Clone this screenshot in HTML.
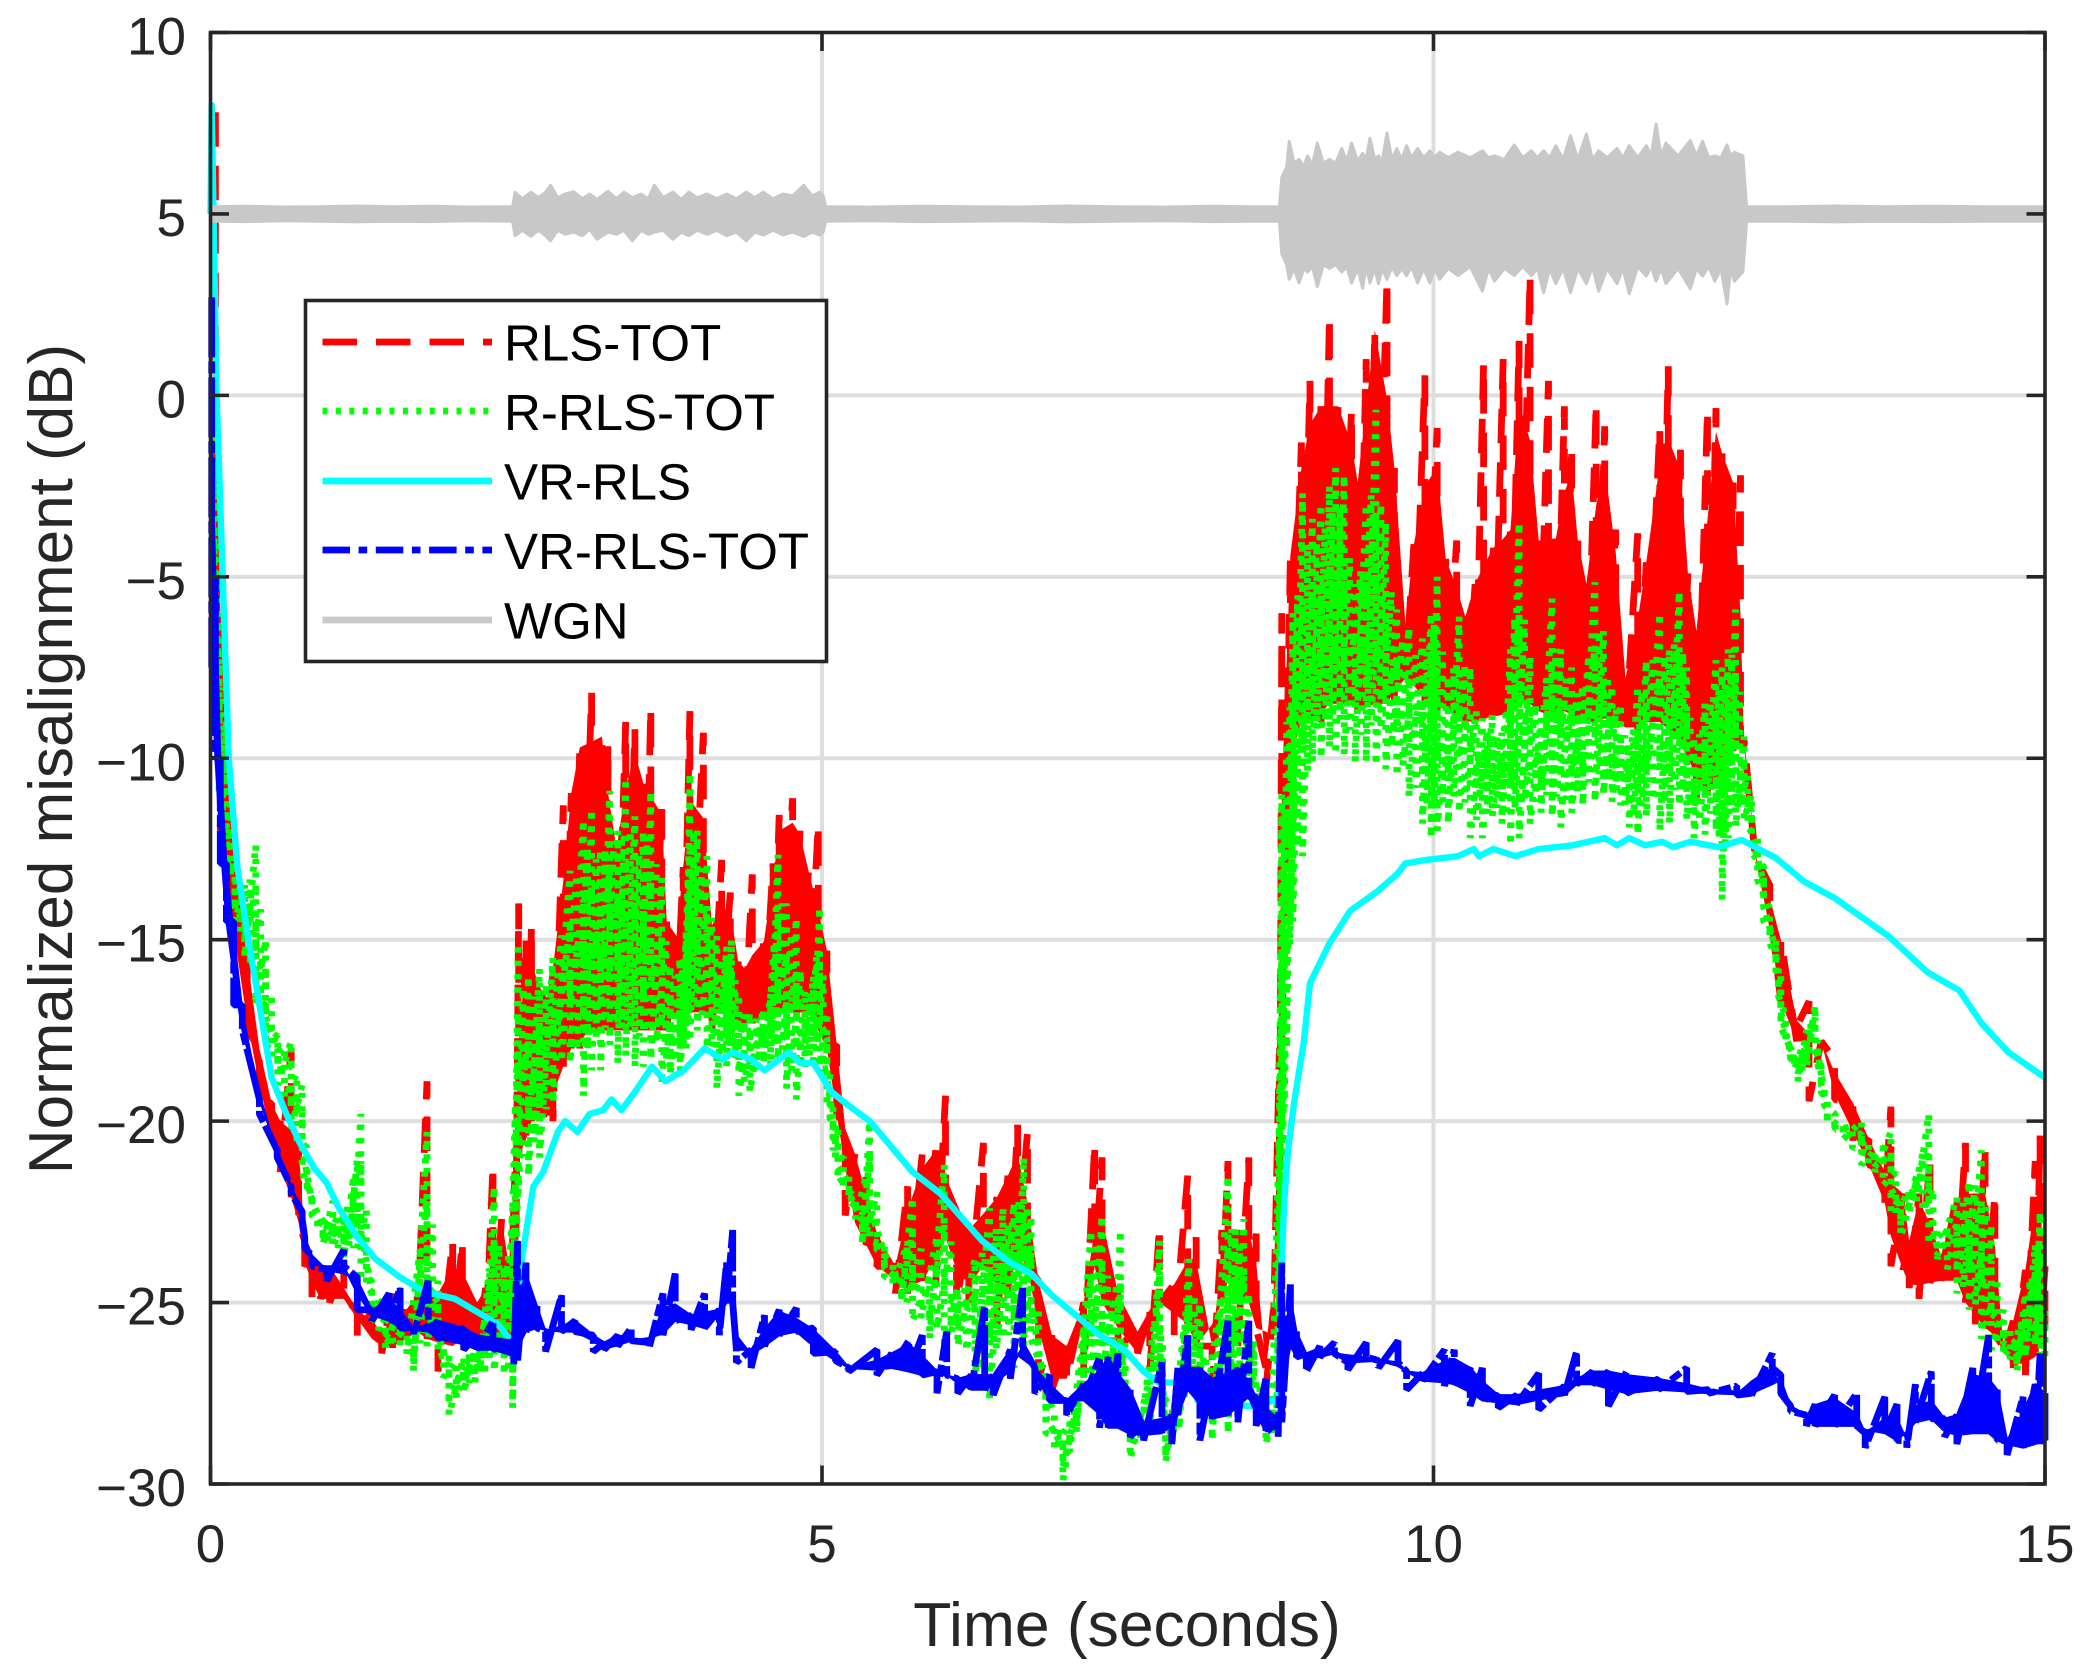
<!DOCTYPE html>
<html lang="en">
<head>
<meta charset="utf-8">
<title>Normalized misalignment vs time</title>
<style>
html,body{margin:0;padding:0;background:#fff;width:2085px;height:1675px;overflow:hidden}
svg{display:block;font-family:"Liberation Sans",Arial,sans-serif}
</style>
</head>
<body>
<svg id="chart" xmlns="http://www.w3.org/2000/svg" width="2085" height="1675" viewBox="0 0 2085 1675">
<rect width="2085" height="1675" fill="#fff"/>
<g id="grid"></g>
<g id="series"></g>
<g id="axes"></g>
<text x="1127" y="1646" font-size="62.4" fill="#262626" text-anchor="middle">Time (seconds)</text>
<text transform="translate(72,759) rotate(-90)" font-size="62" fill="#262626" text-anchor="middle">Normalized misalignment (dB)</text>
<g>
<rect x="305.5" y="300.5" width="521" height="361" fill="#fff" stroke="#262626" stroke-width="3.6"/>
<g><line x1="322.5" x2="492" y1="342" y2="342" stroke="#ff0000" stroke-width="6.8" stroke-dasharray="34.5 19"/><text x="504" y="360.5" font-size="51" fill="#000">RLS-TOT</text></g>
<g><line x1="322.5" x2="492" y1="411" y2="411" stroke="#00ff00" stroke-width="6.8" stroke-dasharray="5 8.4"/><text x="504" y="430" font-size="51" fill="#000">R-RLS-TOT</text></g>
<g><line x1="322.5" x2="492" y1="481" y2="481" stroke="#00ffff" stroke-width="6.8"/><text x="504" y="499.5" font-size="51" fill="#000">VR-RLS</text></g>
<g><line x1="322.5" x2="492" y1="550" y2="550" stroke="#0000ff" stroke-width="6.8" stroke-dasharray="27.5 8.6 8.6 8.6"/><text x="504" y="569" font-size="51" fill="#000">VR-RLS-TOT</text></g>
<g><line x1="322.5" x2="492" y1="620" y2="620" stroke="#c8c8c8" stroke-width="6.8"/><text x="504" y="638.5" font-size="51" fill="#000">WGN</text></g>
</g>
</svg>
<script>
const xTicks = [0, 5, 10, 15];
const yTicks = [10, 5, 0, -5, -10, -15, -20, -25, -30];
const xTickLabels = ['0', '5', '10', '15'];
const yTickLabels = ['10', '5', '0', '\u22125', '\u221210', '\u221215', '\u221220', '\u221225', '\u221230'];

const redTime = [.04,.08,.13,.2,.3,.4,.5,.57,.66,.72,.77,.83,.9,.975,1.09,1.2,1.32,1.4,1.49,1.6,1.69,1.77,1.86,1.98,2.06,2.18,2.25,2.31,2.38,2.44,2.49,2.52,2.58,2.625,2.69,2.75,2.8,2.885,2.95,3.02,3.116,3.2,3.25,3.32,3.395,3.47,3.54,3.6,3.69,3.73,3.81,3.865,3.92,4.03,4.1,4.18,4.25,4.315,4.37,4.43,4.525,4.6,4.65,4.76,4.82,4.89,4.97,5.04,5.12,5.19,5.27,5.36,5.45,5.6,5.7,5.82,5.93,6.01,6.1,6.2,6.32,6.43,6.52,6.6,6.68,6.77,6.88,7,7.14,7.23,7.29,7.42,7.58,7.68,7.76,7.88,7.99,8.06,8.19,8.27,8.32,8.4,8.49,8.55,8.63,8.69,8.74,8.76,8.83,8.92,8.99,9.08,9.15,9.22,9.33,9.38,9.45,9.52,9.62,9.68,9.77,9.84,9.93,10.03,10.1,10.19,10.26,10.34,10.41,10.49,10.57,10.63,10.7,10.79,10.86,10.94,11,11.07,11.13,11.18,11.25,11.33,11.4,11.49,11.57,11.67,11.74,11.85,11.92,12.02,12.08,12.15,12.24,12.31,12.36,12.45,12.51,12.54,12.59,12.63,12.75,12.84,12.97,13.07,13.17,13.28,13.43,13.56,13.69,13.74,13.84,13.89,13.97,14.06,14.15,14.28,14.35,14.43,14.51,14.59,14.66,14.74,14.84,14.92,14.96,15];
const redHigh = [7.8,-6,-10,-13,-15.5,-18,-19.5,-20,-18,-20.5,-23.3,-23.7,-24,-24,-23.9,-25.2,-25.2,-25.8,-24.75,-25.2,-24.8,-18.9,-24.75,-23.3,-23.3,-25,-24.6,-21.2,-22.7,-24,-21.4,-14,-15,-14.6,-16.3,-16.6,-15.8,-11.3,-10.96,-9.7,-8.2,-9.4,-9.6,-12.5,-9,-9.2,-10.7,-8.6,-11.4,-14.5,-14.9,-13,-8.7,-9.3,-14.6,-12.8,-13.7,-15.6,-15.8,-13.2,-15.05,-12.9,-11.56,-11.1,-12,-13.1,-11.8,-15.3,-17.9,-20.2,-20.9,-21.4,-23.1,-24,-21.8,-20.9,-20.8,-19.3,-22.25,-23,-20.6,-22.1,-21.5,-20.1,-20.3,-24.4,-25.9,-26.2,-25,-20.6,-21,-24.75,-25.8,-25.2,-22.9,-24.5,-21.5,-23.2,-26.2,-23,-21.1,-23,-21,-23.1,-26.8,-25.2,-18,-6,-4.4,-1.3,.4,-.3,2.2,-.3,-.4,-2.4,1,1.8,3.2,-2,-6.3,-4.1,.55,-.9,-4.5,-4,-6.1,-5.2,.9,-4.2,1,-3.7,1.5,3.3,-4,.4,-3.95,-.3,-1.4,-4,-5.2,-.2,-.85,-3.7,-7.8,-3.8,-4.6,-.9,.8,-1.5,-4.9,-6.5,-.4,-.35,-1.6,-2.4,-2.2,-9.7,-11.3,-12.7,-13.5,-16.7,-17.8,-16.7,-17.8,-18.3,-19.5,-20.5,-21.4,-19.6,-22,-23.3,-22,-21,-23.7,-22,-20.6,-22,-20.7,-22,-26.2,-25.5,-24.1,-21.1,-20.4,-24];
const redLow = [-8,-12,-13.5,-15,-17.5,-19.5,-20.5,-21.4,-22.1,-22.8,-24,-25,-24.9,-25,-24.9,-26,-26,-26.4,-26.4,-26,-25.8,-26,-26.9,-26.2,-26,-26.3,-26.1,-26.2,-26.2,-26.3,-26.4,-21,-20.5,-20,-19.8,-20,-20,-18.5,-18,-18,-17.5,-17.5,-17.5,-17.5,-17.5,-17.5,-17.5,-17.5,-17.5,-17.5,-17,-17,-17,-17,-17.5,-17,-17.3,-17.5,-17.3,-17.3,-17.2,-17,-17,-17,-17,-17,-17.5,-18,-19.8,-22.6,-22.8,-23.4,-24,-24.75,-24.75,-24.4,-24.5,-23.2,-25,-25,-24,-25.7,-25,-23.6,-24,-27.1,-27.4,-27.1,-27,-24,-25,-26.2,-26.4,-26.9,-25,-25.9,-25.6,-26.2,-27.4,-25,-24.4,-26.2,-25,-25.7,-27.4,-25.9,-26,-18,-10,-9,-9,-9,-8.5,-8.5,-8.5,-8.7,-8.7,-8.5,-8.5,-8.5,-7.8,-8,-8.5,-8.7,-8.6,-8.8,-9.15,-9.1,-8.9,-9,-8.8,-8.8,-8.5,-8.5,-8.7,-8.9,-8.9,-8.7,-8.8,-9,-9.15,-9,-8.9,-9,-9.3,-9.3,-9,-9,-9.2,-9.5,-10,-11.1,-11,-10.8,-10.5,-9.8,-9.5,-9.5,-11.3,-12.7,-14,-15,-17.4,-19.45,-17.8,-19.4,-20.7,-21.2,-22.25,-24,-24.1,-24.6,-24.9,-24.45,-24.4,-24.4,-25,-25.6,-25.7,-25.9,-26.5,-26.8,-27,-26.5,-26.2,-25.9,-26];

const greenTime = [.03,.07,.13,.2,.28,.37,.45,.55,.66,.75,.83,.92,1,1.09,1.17,1.23,1.32,1.43,1.55,1.66,1.77,1.86,1.95,2.07,2.16,2.24,2.32,2.4,2.47,2.516,2.6,2.69,2.8,2.94,3.05,3.116,3.19,3.265,3.33,3.395,3.47,3.54,3.6,3.69,3.76,3.84,3.89,3.92,3.98,4.06,4.14,4.22,4.26,4.32,4.41,4.52,4.58,4.64,4.71,4.79,4.86,4.93,4.98,5.04,5.09,5.13,5.22,5.33,5.39,5.51,5.65,5.74,5.88,6,6.11,6.25,6.37,6.48,6.57,6.65,6.71,6.83,6.97,7.08,7.2,7.29,7.38,7.44,7.52,7.68,7.76,7.81,7.92,8,8.09,8.19,8.32,8.38,8.45,8.53,8.63,8.72,8.76,8.8,8.85,8.93,9.01,9.08,9.15,9.2,9.27,9.36,9.45,9.53,9.61,9.7,9.8,9.91,9.98,10.03,10.12,10.21,10.3,10.4,10.48,10.56,10.63,10.7,10.79,10.88,10.97,11.04,11.13,11.22,11.32,11.39,11.46,11.53,11.6,11.67,11.74,11.85,11.93,12.01,12.07,12.13,12.22,12.31,12.36,12.41,12.47,12.54,12.6,12.7,12.8,12.84,12.92,12.98,13.05,13.12,13.17,13.22,13.35,13.5,13.61,13.74,13.82,13.95,14.05,14.12,14.28,14.38,14.48,14.56,14.66,14.77,14.84,14.92,14.96,15];
const greenHigh = [0,-6,-9,-12.8,-13.5,-12.4,-15,-17.6,-17.8,-19,-22.1,-22.85,-22.2,-22.6,-21.5,-19.8,-24.4,-25.2,-25,-25.9,-20.3,-24.4,-26.4,-26.5,-26,-25.5,-21.8,-24,-22.4,-15.1,-16,-15.8,-15.5,-13.1,-11.7,-11.4,-12.5,-10.9,-12,-10.55,-11.6,-12,-10.9,-13.3,-15.7,-15.5,-14.8,-10.4,-12,-12.7,-14.9,-15.2,-15,-16.5,-17,-16.9,-16.5,-12.66,-14,-14.4,-16.4,-16,-14.1,-17,-19.6,-20.2,-21.5,-22.5,-20,-23.4,-24.2,-22.1,-24.3,-21.2,-24.6,-23.8,-22.4,-22.4,-22.25,-21,-22.6,-27.1,-28.6,-27.7,-23,-22.6,-25,-23,-28.6,-27.1,-23.3,-28.6,-27,-23.8,-25,-27.4,-21.5,-23,-22.7,-26,-28.3,-27.5,-11,-9,-6,-2.7,-3.4,-3,-2.5,-2,-2.2,-5.2,-3,-.4,-3.5,-5.9,-6.4,-6.7,-6,-5,-7.75,-6.1,-7.5,-8.9,-8.8,-9.3,-7,-3.5,-7.2,-8.9,-5.6,-7,-7.5,-8,-5.15,-6.5,-8,-8.5,-9.6,-8,-7.3,-6,-7,-5.4,-7.5,-9.4,-8.5,-7.3,-7.5,-7,-5.9,-9.4,-11,-13,-15,-16,-18,-18.2,-17.5,-16.8,-18.5,-19.4,-20.1,-20,-20.8,-20.3,-22.1,-21.5,-19.8,-23.4,-22.1,-21.65,-20.8,-22.85,-25.2,-26,-24.75,-23.4,-22.5,-25.2];
const greenLow = [-8,-11,-13,-14.5,-15.5,-16.8,-18,-19,-20.2,-21.4,-22.6,-23.4,-23.5,-23.8,-23.5,-24.3,-25.5,-26.3,-26.2,-26.9,-26.2,-26.5,-28.1,-27.5,-27.2,-27,-26.9,-27,-27.9,-22,-21.5,-21,-19.5,-18.4,-19.3,-18.6,-18.6,-17.9,-18.4,-18.2,-18.5,-18.5,-18.3,-19,-18.7,-18.8,-18,-17.8,-17.5,-18,-19.1,-18.5,-18,-19.3,-19.2,-18.4,-18.5,-18.3,-19.1,-19.4,-18.5,-18.5,-18.5,-19.5,-20.8,-21.7,-22.2,-23.4,-23.3,-24.3,-25,-25.5,-26,-26.3,-26.2,-27.1,-27.7,-26,-26.8,-26.2,-26,-28.6,-29.9,-28.6,-27.4,-27,-28,-27.4,-29.3,-28.6,-26.2,-29.4,-28.5,-27.4,-27.4,-28.8,-28.6,-27.5,-27.4,-27.4,-28.9,-28.6,-24,-18,-14.5,-12.7,-10.1,-10,-9.7,-9.9,-9.9,-10.1,-10.1,-10.2,-10.3,-10.5,-11.05,-11.8,-12.2,-12,-11.8,-11.5,-12.2,-12.2,-11.6,-11.8,-12.4,-12.2,-11.8,-11.5,-11.6,-11.9,-11.5,-11.3,-11.2,-11,-11.2,-11.3,-11.9,-12.1,-11.6,-12,-11.8,-11.3,-11.7,-12.2,-12.1,-12,-13.9,-12.2,-11.9,-11.7,-12.6,-14.5,-16,-17.4,-18.4,-18.9,-18.5,-18,-19.2,-20.1,-20.5,-21.2,-21.4,-22.5,-23.2,-22.2,-23.3,-23.8,-24.75,-25.2,-26,-26.3,-26.5,-26.9,-26.5,-26.2,-26.5,-26.5];

const cyanTime = [0,.01,.05,.1,.15,.22,.31,.4,.5,.62,.73,.85,.95,1.05,1.2,1.35,1.55,1.75,2,2.2,2.35,2.47,2.5,2.55,2.64,2.72,2.84,2.9,3,3.1,3.21,3.28,3.36,3.47,3.61,3.72,3.87,4.04,4.19,4.27,4.42,4.53,4.73,4.82,4.93,5.08,5.19,5.39,5.74,5.97,6.31,6.54,6.71,6.88,7.27,7.47,7.63,7.75,7.85,8.04,8.07,8.2,8.25,8.5,8.7,8.73,8.76,8.78,8.81,8.86,8.94,8.99,9.15,9.32,9.53,9.7,9.77,9.94,10.2,10.33,10.37,10.49,10.67,10.86,11.14,11.4,11.5,11.6,11.73,11.87,11.96,12.1,12.33,12.52,12.8,13.03,13.28,13.72,14.04,14.3,14.48,14.7,15];
const cyanLevel = [5,8,0,-5,-10,-13,-15,-16.8,-18.8,-19.8,-20.6,-21.3,-21.7,-22.4,-23.2,-23.8,-24.3,-24.7,-24.9,-25.3,-25.6,-26.1,-26.3,-23.7,-21.8,-21.4,-20.3,-20,-20.3,-19.8,-19.7,-19.4,-19.7,-19.2,-18.5,-18.9,-18.6,-18,-18.3,-18.1,-18.3,-18.6,-18.1,-18.4,-18.4,-19.2,-19.5,-20,-21.4,-22,-23.3,-23.9,-24.2,-24.8,-25.9,-26.3,-26.9,-27.2,-27.2,-27.25,-27.7,-27.6,-27.8,-27.85,-27.7,-27.8,-23.8,-22.2,-20.8,-19.5,-17.8,-16.2,-15.1,-14.2,-13.7,-13.2,-12.9,-12.8,-12.7,-12.5,-12.7,-12.5,-12.7,-12.5,-12.4,-12.2,-12.4,-12.2,-12.4,-12.3,-12.45,-12.3,-12.45,-12.25,-12.75,-13.4,-13.85,-14.9,-15.9,-16.4,-17.3,-18.1,-18.8];

const blueTime = [.01,.04,.08,.13,.19,.26,.4,.545,.66,.75,.77,.83,.95,1.09,1.2,1.32,1.46,1.55,1.66,1.78,1.86,2.07,2.18,2.31,2.48,2.51,2.58,2.67,2.74,2.87,2.98,3.13,3.22,3.33,3.44,3.59,3.7,3.8,3.93,4.04,4.16,4.22,4.27,4.3,4.42,4.53,4.65,4.79,4.93,5.11,5.22,5.45,5.57,5.71,5.82,5.94,6.02,6.11,6.22,6.33,6.4,6.54,6.64,6.74,6.86,7,7.14,7.27,7.34,7.42,7.52,7.63,7.78,7.86,7.91,7.99,8.09,8.19,8.32,8.4,8.49,8.55,8.63,8.73,8.76,8.83,8.88,8.96,9.07,9.19,9.3,9.45,9.55,9.71,9.78,9.91,10.09,10.17,10.3,10.4,10.53,10.68,10.86,11.07,11.17,11.3,11.43,11.58,11.84,12.07,12.25,12.48,12.6,12.77,12.84,12.92,13.05,13.12,13.28,13.46,13.53,13.69,13.79,13.87,13.94,14.07,14.18,14.28,14.41,14.54,14.61,14.69,14.82,14.92,14.96,15];
const blueHigh = [2.7,-5,-10,-12.9,-14.5,-16.8,-19.4,-20.8,-21.8,-22.5,-23.2,-23.7,-24.1,-23.55,-24.3,-25.2,-24.75,-24.6,-25.7,-24.4,-25.5,-25.7,-25.9,-25.5,-26.05,-23.3,-23.9,-25.1,-25.8,-24.8,-25.5,-25.9,-26.1,-25.9,-25.7,-26.1,-24.75,-24.2,-25.35,-24.75,-25.2,-23.9,-23,-26.3,-26.3,-25.35,-25.2,-25.15,-25.7,-26.35,-26.8,-26.3,-26.4,-26.05,-25.9,-26.9,-25.8,-27.1,-27,-25.1,-27,-26.3,-24.6,-26.8,-27,-27.7,-27.25,-26.5,-26.5,-26.4,-27.4,-28.3,-26.65,-28.1,-26.8,-25.9,-26.8,-27.1,-25.5,-26.8,-25.5,-27.6,-27.1,-28.2,-23.9,-24.5,-25.8,-26.4,-26.2,-26.1,-26.65,-26.1,-26.6,-26.05,-26.9,-26.95,-26.3,-26.3,-26.8,-26.8,-27.55,-27.55,-26.95,-27.3,-26.35,-26.9,-26.9,-26.9,-27.1,-26.8,-27.4,-27.3,-27.5,-26.4,-27,-27.85,-28.1,-27.8,-27.55,-27.5,-28.6,-27.6,-27.8,-28.8,-27.25,-26.9,-28.2,-28.1,-26.8,-25.9,-27.4,-28.8,-27.6,-27.25,-26.4,-27.5];
const blueLow = [-7.5,-10,-12.9,-14.5,-16.8,-17.5,-19.8,-21,-22,-22.7,-23.5,-24,-24.4,-24,-25.2,-25.5,-25.5,-25.7,-25.9,-25.8,-26,-26.3,-26.3,-26.3,-26.7,-26.65,-25.8,-25.7,-26.35,-25.8,-25.8,-26.35,-26.3,-26.2,-26.05,-26.2,-25.9,-25.5,-25.75,-25.7,-25.9,-25,-25,-26.65,-26.8,-26.2,-25.9,-25.8,-26.4,-26.6,-26.9,-27,-26.8,-26.9,-27,-27.5,-27,-27.5,-27.4,-27.4,-27.55,-27.1,-26.2,-27.5,-27.7,-28.1,-27.7,-28.45,-28.45,-28.45,-28.7,-28.8,-28.6,-28.9,-28.1,-27.4,-28.8,-28.2,-28.1,-28.3,-27.6,-28.4,-28.6,-28.7,-28.3,-26.2,-26.5,-26.9,-26.5,-26.4,-26.85,-26.5,-26.8,-26.65,-27.4,-27.15,-27.3,-27.25,-27.85,-27.7,-27.9,-27.8,-27.95,-27.55,-27.25,-27.25,-27.85,-27.5,-27.4,-27.45,-27.5,-27.55,-27.55,-26.8,-27.5,-28,-28.4,-28.4,-28.4,-28.4,-29,-28.6,-28.8,-29,-28.3,-28.2,-28.7,-28.9,-28.6,-28.6,-28.8,-29.2,-29,-28.9,-28.9,-28.8];

const wgnTime = [0,.3,.6,.9,1.2,1.5,1.8,2.1,2.45,
2.47,2.49,2.55,2.62,2.68,2.74,2.78,2.84,2.9,2.97,3.04,3.1,3.16,3.25,3.32,3.38,3.45,3.52,3.58,3.63,3.7,3.78,3.85,3.91,3.98,4.06,4.14,4.22,4.3,4.38,4.45,4.52,4.6,4.68,4.76,4.85,4.92,4.98,5.01,
5.03,5.4,5.8,6.2,6.6,7,7.4,7.8,8.2,8.5,
8.74,8.76,8.8,8.82,8.86,8.9,8.94,8.97,9.01,9.05,9.1,9.15,9.2,9.25,9.29,9.33,9.38,9.42,9.45,9.48,9.52,9.55,9.58,9.62,9.66,9.7,9.74,9.78,9.82,9.87,9.92,9.97,10.01,10.05,10.12,10.2,10.3,10.4,10.45,10.5,10.58,10.66,10.73,10.8,10.85,10.9,10.95,11,11.06,11.12,11.18,11.25,11.3,11.35,11.42,11.5,11.55,11.6,11.67,11.74,11.78,11.82,11.86,11.9,12,12.1,12.15,12.2,12.25,12.3,12.35,12.4,12.43,12.46,12.53,12.56,
12.9,13.3,13.7,14.1,14.5,15];
const wgnUpper = [5.2,5.21,5.19,5.2,5.22,5.2,5.21,5.19,5.2,
5.2,5.6,5.42,5.6,5.45,5.6,5.79,5.45,5.55,5.61,5.42,5.55,5.4,5.62,5.42,5.6,5.45,5.55,5.42,5.79,5.45,5.6,5.4,5.6,5.45,5.55,5.42,5.55,5.42,5.6,5.45,5.6,5.42,5.55,5.5,5.79,5.5,5.6,5.5,
5.2,5.19,5.21,5.2,5.19,5.22,5.2,5.19,5.21,5.2,
5.2,6,6.3,7,6.4,6.5,6.3,6.6,6.35,6.95,6.4,6.5,6.4,6.8,6.45,6.95,6.45,6.67,6.5,7.09,6.5,6.6,6.45,7.23,6.5,6.8,6.5,6.88,6.55,6.8,6.55,6.74,6.55,6.7,6.55,6.7,6.55,6.74,6.55,6.6,6.5,6.9,6.55,6.74,6.55,6.74,6.55,6.88,6.5,7.16,6.5,7.2,6.5,6.74,6.55,6.8,6.55,6.88,6.55,6.88,6.6,7.47,6.6,6.95,6.6,7.02,6.6,7,6.55,6.6,6.55,6.9,6.6,6.7,6.6,5.2,
5.2,5.22,5.2,5.21,5.2,5.2];
const wgnLower = [4.8,4.79,4.81,4.8,4.78,4.8,4.79,4.81,4.8,
4.8,4.4,4.55,4.38,4.55,4.4,4.26,4.55,4.44,4.5,4.4,4.58,4.3,4.5,4.44,4.55,4.26,4.55,4.44,4.5,4.55,4.3,4.5,4.4,4.55,4.44,4.55,4.4,4.5,4.26,4.5,4.42,4.55,4.42,4.5,4.38,4.5,4.42,4.5,
4.8,4.81,4.79,4.8,4.81,4.78,4.8,4.81,4.79,4.8,
4.8,3.9,3.6,3.2,3.5,3.1,3.5,3.4,3.55,3,3.6,3.5,3.6,3.4,3.55,3.1,3.5,2.95,3.55,3.1,3.5,3.08,3.5,3.2,3.55,3.3,3.5,3.3,3.55,3.1,3.5,3.1,3.5,3.2,3.5,3.3,3.55,2.87,3.5,3.15,3.5,3.3,3.55,3.3,3.5,2.83,3.5,3.08,3.5,2.83,3.5,3.08,3.55,2.87,3.5,3.08,3.5,2.8,3.55,3.29,3.55,3.15,3.5,3.08,3.5,2.94,3.5,3.29,3.55,3.15,3.5,2.52,3.5,3.15,3.4,4.8,
4.8,4.78,4.8,4.79,4.8,4.8];

const plotLeft = 210.5, plotRight = 2045, plotTop = 32.5, plotBottom = 1484;
const xMin = 0, xMax = 15, yMin = -30, yMax = 10;
const tickLength = 18.5;
const xScale = v => plotLeft + (v - xMin) / (xMax - xMin) * (plotRight - plotLeft);
const yScale = v => plotBottom - (v - yMin) / (yMax - yMin) * (plotBottom - plotTop);
const NS = 'http://www.w3.org/2000/svg';
const gridGroup = document.getElementById('grid');
const seriesGroup = document.getElementById('series');
const axesGroup = document.getElementById('axes');

function svgEl(tag, parent, props) {
  const el = document.createElementNS(NS, tag);
  for (const k in props) el.setAttribute(k, props[k]);
  parent.appendChild(el);
  return el;
}

function envelopeZigzag(times, highs, lows) {
  let d = '';
  times.forEach((t, i) => {
    const x = xScale(t).toFixed(1);
    d += (i ? 'L' : 'M') + x + ' ' + yScale(highs[i]).toFixed(1) + 'L' + x + ' ' + yScale(lows[i]).toFixed(1);
  });
  return d;
}

function coreZigzag(times, highs, lows, fraction, shifted) {
  let d = '';
  const n = shifted ? times.length - 1 : times.length;
  for (let i = 0; i < n; i++) {
    const j = shifted ? i + 1 : i;
    const t = (times[i] + times[j]) / 2;
    const top = (highs[i] + highs[j]) / 2;
    const bottom = (lows[i] + lows[j]) / 2;
    const mid = (top + bottom) / 2;
    const half = (top - bottom) / 2 * fraction;
    const x = xScale(t).toFixed(1);
    d += (i ? 'L' : 'M') + x + ' ' + yScale(mid + half).toFixed(1) + 'L' + x + ' ' + yScale(mid - half).toFixed(1);
  }
  return d;
}

function simpleLine(times, levels) {
  return times.map((t, i) => (i ? 'L' : 'M') + xScale(t).toFixed(1) + ' ' + yScale(levels[i]).toFixed(1)).join('');
}

function closedBand(times, uppers, lowers) {
  const top = times.map((t, i) => (i ? 'L' : 'M') + xScale(t).toFixed(1) + ' ' + yScale(uppers[i]).toFixed(1)).join('');
  let bottom = '';
  for (let i = times.length - 1; i >= 0; i--) bottom += 'L' + xScale(times[i]).toFixed(1) + ' ' + yScale(lowers[i]).toFixed(1);
  return top + bottom + 'Z';
}

function neighbourAverage(values, i) {
  const a = values[Math.max(i - 1, 0)];
  const b = values[Math.min(i + 1, values.length - 1)];
  return (a + b) / 2;
}

function bodyBand(times, highs, lows) {
  const tops = highs.map((h, i) => Math.min(h, neighbourAverage(highs, i)));
  const bottoms = lows.map((l, i) => Math.max(l, neighbourAverage(lows, i)));
  return closedBand(times, tops, bottoms);
}

xTicks.forEach(v => {
  if (v === xMin || v === xMax) return;
  const line = svgEl('line', gridGroup, {x1: xScale(v), x2: xScale(v), y1: plotTop, y2: plotBottom, stroke: '#dedede', 'stroke-width': 4});
  
  
});
yTicks.forEach(v => {
  if (v === yMin || v === yMax) return;
  const line = svgEl('line', gridGroup, {x1: plotLeft, x2: plotRight, y1: yScale(v), y2: yScale(v), stroke: '#dedede', 'stroke-width': 4});
  
  
});

const redBody = svgEl('path', seriesGroup, {d: bodyBand(redTime, redHigh, redLow), fill: '#ff0000', stroke: 'none'});


const redPath = svgEl('path', seriesGroup, {d: envelopeZigzag(redTime, redHigh, redLow), fill: 'none', stroke: '#ff0000', 'stroke-width': 6.8, 'stroke-linejoin': 'bevel', 'stroke-dasharray': '34.5 19'});



const greenPath = svgEl('path', seriesGroup, {d: envelopeZigzag(greenTime, greenHigh, greenLow), fill: 'none', stroke: '#00ff00', 'stroke-width': 6.8, 'stroke-linejoin': 'bevel', 'stroke-dasharray': '5 8.4'});


const greenCoreWide = svgEl('path', seriesGroup, {d: coreZigzag(greenTime, greenHigh, greenLow, 0.75, true), fill: 'none', stroke: '#00ff00', 'stroke-width': 6.8, 'stroke-linejoin': 'bevel', 'stroke-dasharray': '5 8.4', 'stroke-dashoffset': 3});


const greenCoreNarrow = svgEl('path', seriesGroup, {d: coreZigzag(greenTime, greenHigh, greenLow, 0.42, false), fill: 'none', stroke: '#00ff00', 'stroke-width': 6.8, 'stroke-linejoin': 'bevel', 'stroke-dasharray': '5 6', 'stroke-dashoffset': 7});



const cyanPath = svgEl('path', seriesGroup, {d: simpleLine(cyanTime, cyanLevel), fill: 'none', stroke: '#00ffff', 'stroke-width': 6.4, 'stroke-linejoin': 'round'});



const blueBody = svgEl('path', seriesGroup, {d: bodyBand(blueTime, blueHigh, blueLow), fill: '#0000ff', stroke: '#0000ff', 'stroke-width': 2, 'stroke-linejoin': 'round'});


const bluePath = svgEl('path', seriesGroup, {d: envelopeZigzag(blueTime, blueHigh, blueLow), fill: 'none', stroke: '#0000ff', 'stroke-width': 6.8, 'stroke-linejoin': 'bevel', 'stroke-dasharray': '60 4 12 4'});



const wgnPath = svgEl('path', seriesGroup, {d: closedBand(wgnTime, wgnUpper, wgnLower), fill: '#c8c8c8', stroke: '#c8c8c8', 'stroke-width': 3, 'stroke-linejoin': 'round'});



const frame = svgEl('rect', axesGroup, {x: plotLeft, y: plotTop, width: plotRight - plotLeft, height: plotBottom - plotTop, fill: 'none', stroke: '#262626', 'stroke-width': 3.6});



xTicks.forEach((v, i) => {
  const x = xScale(v);
  const bottomTick = svgEl('line', axesGroup, {x1: x, x2: x, y1: plotBottom, y2: plotBottom - tickLength, stroke: '#262626', 'stroke-width': 3.6});
  
  
  const topTick = svgEl('line', axesGroup, {x1: x, x2: x, y1: plotTop, y2: plotTop + tickLength, stroke: '#262626', 'stroke-width': 3.6});
  
  
  const label = svgEl('text', axesGroup, {x: x, y: 1562, 'font-size': 53, fill: '#262626', 'text-anchor': 'middle'});
  label.textContent = xTickLabels[i];
  
  
});

yTicks.forEach((v, i) => {
  const y = yScale(v);
  const leftTick = svgEl('line', axesGroup, {x1: plotLeft, x2: plotLeft + tickLength, y1: y, y2: y, stroke: '#262626', 'stroke-width': 3.6});
  
  
  const rightTick = svgEl('line', axesGroup, {x1: plotRight, x2: plotRight - tickLength, y1: y, y2: y, stroke: '#262626', 'stroke-width': 3.6});
  
  
  const label = svgEl('text', axesGroup, {x: 186, y: y + 22, 'font-size': 53, fill: '#262626', 'text-anchor': 'end'});
  label.textContent = yTickLabels[i];
  
  
});
</script>
</body>
</html>
